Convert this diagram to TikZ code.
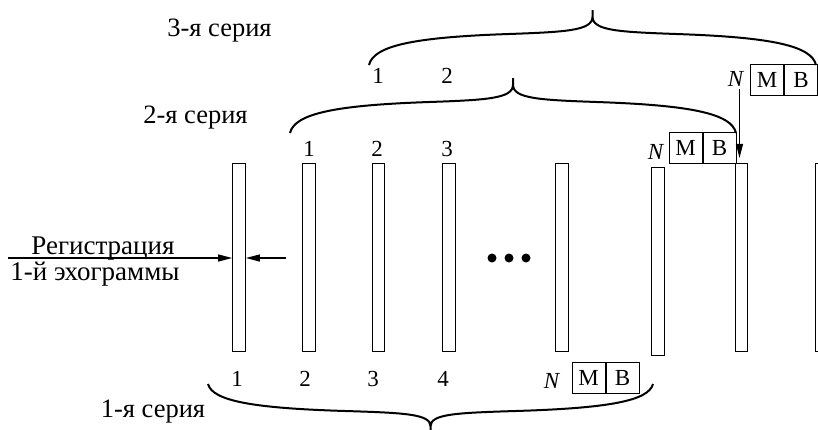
\documentclass[tikz,border=0pt]{standalone}
\usepackage{fontspec}
\setmainfont{Liberation Serif}
\usetikzlibrary{arrows.meta,positioning}

\begin{document}
\begin{tikzpicture}[x=1pt,y=-1pt,>={Triangle[length=14pt,width=7pt]},
  bar/.style={draw,line width=1.2pt,minimum width=12.5pt,minimum height=188pt,inner sep=0pt},
  cell/.style={draw,line width=1pt,minimum width=33pt,minimum height=31pt,inner sep=0pt,
    font=\fontsize{23}{27}\selectfont},
  num/.style={anchor=base,inner sep=0pt,font=\fontsize{23}{27}\selectfont},
  txt/.style={anchor=base,inner sep=0pt,font=\fontsize{27}{31}\selectfont},
  ser/.style={anchor=base,inner sep=0pt,font=\fontsize{26.5}{30}\selectfont},
  arr/.style={->,line width=1.2pt},
  brc/.style={line width=2pt},
  serbrace/.pic={
    \draw[brc] (0,0) .. controls (0.01,0.35) and (0.1,0.5) .. (0.3,0.56)
      .. controls (0.44,0.6) and (0.5,0.62) .. (0.5,0.88) -- (0.5,1)
      (0.5,0.88) .. controls (0.5,0.62) and (0.56,0.6) .. (0.7,0.56)
      .. controls (0.9,0.5) and (0.99,0.35) .. (1,0);
  }]
  \useasboundingbox (0,0) rectangle (818,429);

  % echogram strips
  \foreach \x/\y [count=\i from 0] in {239/257.5,309/257.5,378.5/257.5,449/257.5,
      562/257.5,658/261.5,741.5/257.5,821.5/257.5}
    \node[bar] (b\i) at (\x,\y) {};
  \foreach \x [count=\i] in {492,509,526}
    \fill (\x,258) circle (4.5pt) coordinate (dot\i);

  % registration of the first echogram
  \node[txt] (reg) at (103,254) {Регистрация};
  \node[txt] (echo) at (95,280) {1-й эхограммы};
  \coordinate (rl) at (8,258);
  \coordinate (rr) at (286,258);
  \draw[arr] (rl) -- (rl -| b0.west);
  \draw[arr] (rr) -- (rr -| b0.east);

  % series 1
  \foreach \x/\t in {237/1,305/2,373/3,443/4}
    \node[num] (a\t) at (\x,386) {\t};
  \node[num] (n1) at (552,388) {\textit{N}};
  \node[cell] (m1) at (588.5,377.5) {М};
  \node[cell,right=0pt of m1] (v1) {В};
  \pic[xscale=445,yscale=48] at (208,384) {serbrace};
  \node[ser] (l1) at (153,417) {1-я серия};

  % series 2
  \foreach \x/\t in {309/1,377/2,447/3}
    \node[num] (c\t) at (\x,156) {\t};
  \node[num] (n2) at (656,159) {\textit{N}};
  \node[cell] (m2) at (685.5,148) {М};
  \node[cell,right=0pt of m2] (v2) {В};
  \pic[xscale=446,yscale=-55] at (290,133) {serbrace};
  \node[ser] (l2) at (195.5,123) {2-я серия};

  % series 3
  \foreach \x/\t in {378/1,447/2}
    \node[num] (d\t) at (\x,83) {\t};
  \node[num] (n3) at (736,86) {\textit{N}};
  \node[cell] (m3) at (767,79.5) {М};
  \node[cell,right=0pt of m3] (v3) {В};
  \pic[xscale=447,yscale=-55] at (369,65) {serbrace};
  \node[ser] (l3) at (219.5,36) {3-я серия};
  \draw[arr,shorten <=3pt,shorten >=5pt]
    ([xshift=-2pt]n3.south -| b6.north) -- ([xshift=-2pt]b6.north);
\end{tikzpicture}
\end{document}
